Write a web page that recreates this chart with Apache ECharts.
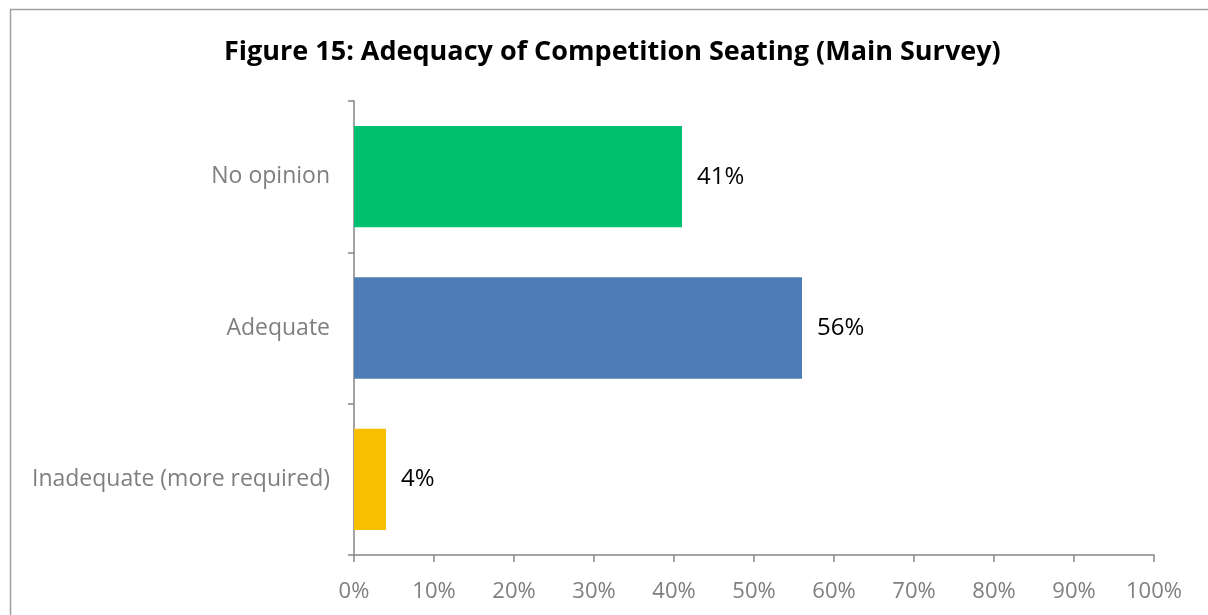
<!DOCTYPE html>
<html>
<head>
<meta charset="utf-8">
<script src="https://cdn.jsdelivr.net/npm/echarts@6/dist/echarts.min.js"></script>
<style>
  html, body { margin: 0; padding: 0; background: #fff; }
  #chart { width: 1208px; height: 615px; }
</style>
</head>
<body>
<div id="chart"></div>
<script>
// Survey responses, bottom to top on the category axis
const categories = ['Inadequate (more required)', 'Adequate', 'No opinion'];
const shares = [4, 56, 41];
const barColors = ['#F8BE00', '#4E7CB6', '#00BF6F'];
const xTicks = [0, 10, 20, 30, 40, 50, 60, 70, 80, 90, 100];

const FONT = 'Open Sans';
const AXIS_GRAY = '#868686';
const LABEL_GRAY = '#7F7F7F';

const chart = echarts.init(document.getElementById('chart'));
chart.setOption({
  backgroundColor: '#fff',
  animation: false,
  title: {
    text: 'Figure 15: Adequacy of Competition Seating (Main Survey)',
    left: 219,
    top: 34,
    textStyle: { fontFamily: FONT, fontWeight: 'bold', fontSize: 27, color: '#000' }
  },
  graphic: [{
    type: 'rect',
    shape: { x: 10.5, y: 9.5, width: 1220, height: 640 },
    style: { fill: 'none', stroke: '#A0A0A0', lineWidth: 1.5 },
    silent: true
  }],
  grid: { left: 354, right: 54, top: 101, bottom: 60, containLabel: false },
  xAxis: {
    type: 'value',
    min: xTicks[0],
    max: xTicks[xTicks.length - 1],
    interval: 10,
    axisLine: { show: true, lineStyle: { color: AXIS_GRAY, width: 1.5 } },
    axisTick: { show: true, length: 7, lineStyle: { color: AXIS_GRAY, width: 1.5 } },
    splitLine: { show: false },
    axisLabel: {
      margin: 26,
      fontFamily: FONT, fontSize: 22, color: LABEL_GRAY,
      formatter: v => v + '%'
    }
  },
  yAxis: {
    type: 'category',
    data: categories,
    axisLine: { show: true, lineStyle: { color: AXIS_GRAY, width: 1.5 } },
    axisTick: { show: true, length: 6, lineStyle: { color: AXIS_GRAY, width: 1.5 } },
    axisLabel: { margin: 24, fontFamily: FONT, fontSize: 23, color: LABEL_GRAY }
  },
  series: [{
    type: 'bar',
    data: shares.map((v, i) => ({ value: v, itemStyle: { color: barColors[i] } })),
    barCategoryGap: '33%',
    label: {
      show: true,
      position: 'right',
      distance: 15,
      fontFamily: FONT, fontSize: 24, color: '#000',
      formatter: p => p.value + '%'
    }
  }]
});
</script>
</body>
</html>
